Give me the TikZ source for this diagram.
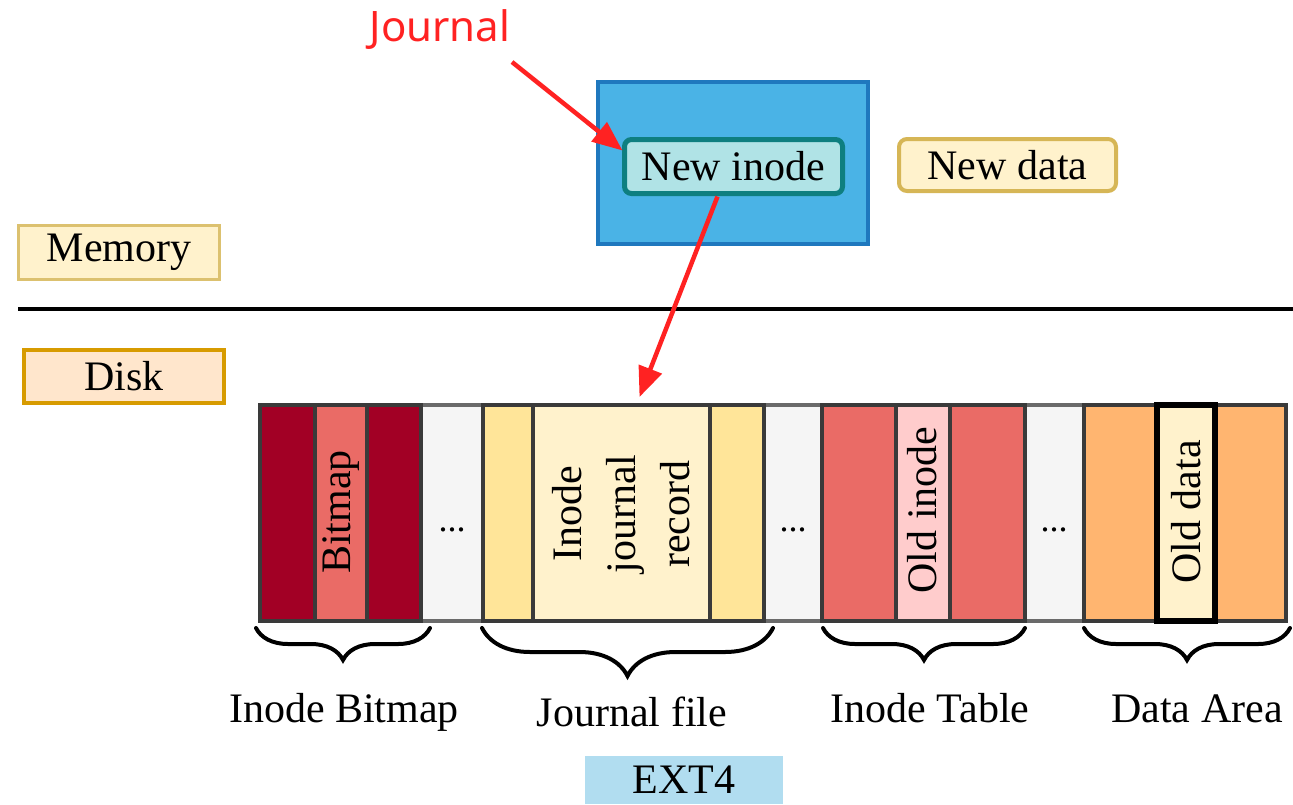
\documentclass[tikz,border=0pt]{standalone}
\usepackage{fontspec}
\setmainfont{Liberation Serif}
\newfontfamily\jfont{Noto Sans}
\usetikzlibrary{arrows.meta,decorations.pathreplacing}
\definecolor{dred}{HTML}{A20025}
\definecolor{mred}{HTML}{EA6B66}
\definecolor{lpink}{HTML}{FFCCCC}
\definecolor{jyel}{HTML}{FFE599}
\definecolor{cream}{HTML}{FFF2CC}
\definecolor{orng}{HTML}{FFB570}
\definecolor{lgray}{HTML}{F5F5F5}
\definecolor{mgray}{HTML}{6A6A6A}
\definecolor{dgray}{HTML}{3A3A3A}
\definecolor{goldb}{HTML}{D6B656}
\definecolor{diskf}{HTML}{FFE6CC}
\definecolor{diskb}{HTML}{D79B00}
\definecolor{blf}{HTML}{4AB3E6}
\definecolor{bld}{HTML}{1F78BE}
\definecolor{tealf}{HTML}{B0E3E6}
\definecolor{tealb}{HTML}{0E7F80}
\definecolor{extf}{HTML}{B1DDF0}
\definecolor{redarr}{HTML}{FF2222}
\tikzset{
  every node/.style={font=\fontsize{42}{54}\selectfont, inner sep=0pt, outer sep=0pt},
  seg/.style={draw=dgray, line width=4pt, minimum height=216pt},
  gseg/.style={draw=mgray, fill=lgray, line width=4pt, minimum height=216pt},
  vtext/.style={rotate=90, align=center},
  dots/.style={font=\fontsize{36}{36}\selectfont, anchor=base},
  lbl/.style={anchor=base},
  bracestyle/.style={decorate, decoration={brace, mirror, amplitude=#1}, line width=4pt, line cap=round},
  redarrow/.style={draw=redarr, line width=4.5pt, -{Triangle[length=30pt,width=24pt]}},
}
\newcommand\segnode[5]{\node[#5, minimum width={#3-#2}] (#1) at ({(#2+#3)/2},513) {};}
\begin{document}
\begin{tikzpicture}[x=1pt,y=-1pt]
\useasboundingbox (0,0) rectangle (1293,804);

% labels top
\node[font=\jfont\fontsize{42}{50}\selectfont, text=redarr] (journal) at (440,30) {Journal};
\node[draw=bld, fill=blf, line width=4pt, minimum width=270pt, minimum height=162pt] (mem) at (733,163) {};
\node[draw=tealb, fill=tealf, line width=5pt, rounded corners=7pt, minimum width=218pt, minimum height=54pt] (newinode) at (733.5,166.5) {New inode};
\node[draw=goldb, fill=cream, line width=4pt, rounded corners=8pt, minimum width=217pt, minimum height=52pt] (newdata) at (1007.5,165) {New data};
\node[draw=goldb!85, fill=cream, line width=3pt, minimum width=201pt, minimum height=54pt] (memory) at (119,252.5) {Memory};
\node[draw=diskb, fill=diskf, line width=4pt, minimum width=200pt, minimum height=53pt] (disk) at (124,376.5) {Disk};

% divider
\draw[line width=4pt] (18,309) -- (1293,309);

% disk strip
\segnode{g1}{421}{483}{}{gseg}
\segnode{g2}{764}{822}{}{gseg}
\segnode{g3}{1025}{1084}{}{gseg}
\segnode{b1}{260}{315}{}{seg, fill=dred}
\segnode{b3}{367}{421}{}{seg, fill=dred}
\segnode{b2}{315}{367}{}{seg, fill=mred}
\segnode{j1}{483}{533}{}{seg, fill=jyel}
\segnode{j3}{710}{764}{}{seg, fill=jyel}
\segnode{j2}{533}{710}{}{seg, fill=cream}
\segnode{t1}{822}{896}{}{seg, fill=mred}
\segnode{t3}{950}{1025}{}{seg, fill=mred}
\segnode{t2}{896}{950}{}{seg, fill=lpink}
\segnode{d1}{1084}{1157}{}{seg, fill=orng}
\segnode{d3}{1215}{1286}{}{seg, fill=orng}
\segnode{d2}{1157}{1215}{}{seg, fill=cream, draw=black, line width=6pt}

\node[vtext] (tb) at (341,512) {Bitmap};
\node[vtext] (tj) at (621.5,514) {Inode\\journal\\record};
\node[vtext] (tt) at (922,510) {Old inode};
\node[vtext] (td) at (1186,512) {Old data};
\node[dots] (dt1) at (452,531) {...};
\node[dots] (dt2) at (793,531) {...};
\node[dots] (dt3) at (1054,531) {...};

% braces
\draw[bracestyle=32pt] (256,628) -- (430,628);
\draw[bracestyle=48pt] (482,628) -- (773,628);
\draw[bracestyle=32pt] (823,628) -- (1025,628);
\draw[bracestyle=32pt] (1084,628) -- (1290,628);

\node[lbl] (lb) at (344,722) {Inode Bitmap};
\node[lbl] (lj) at (632,726) {Journal file};
\node[lbl] (lt) at (930,722) {Inode Table};
\node[lbl] (ld) at (1197,722) {Data Area};

\node[fill=extf, minimum width=198pt, minimum height=48pt] (ext) at (684,780) {\raisebox{-3pt}{EXT4}};

% arrows
\coordinate (a1s) at (512,62);
\draw[redarrow] (a1s) -- ([yshift=16pt,xshift=-2pt]newinode.west);
\draw[redarrow] ([xshift=-16pt,yshift=-3pt]newinode.south) -- ([xshift=18pt,yshift=8pt]j2.north);
\end{tikzpicture}
\end{document}
